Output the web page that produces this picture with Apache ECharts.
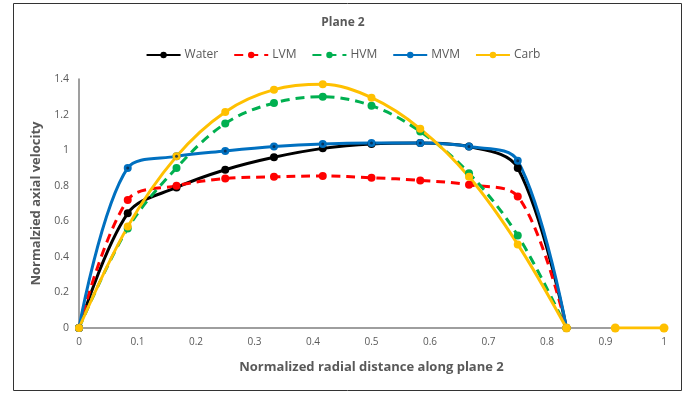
<!DOCTYPE html>
<html><head><meta charset="utf-8">
<script src="https://cdn.jsdelivr.net/npm/echarts@6/dist/echarts.min.js"></script>
<style>html,body{margin:0;padding:0;background:#fff}#c{width:686px;height:396px}</style>
</head><body><div id="c"></div>
<script>
var xValues = [0, 0.0833, 0.1667, 0.25, 0.3333, 0.4167, 0.5, 0.5833, 0.6667, 0.75, 0.8333, 0.9167, 1];
var water = [0, 0.645, 0.79, 0.89, 0.96, 1.01, 1.035, 1.04, 1.02, 0.90, 0, null, null];
var lvm   = [0, 0.72, 0.80, 0.84, 0.85, 0.855, 0.845, 0.83, 0.805, 0.74, 0, null, null];
var hvm   = [0, 0.56, 0.90, 1.15, 1.265, 1.30, 1.25, 1.105, 0.87, 0.52, 0, null, null];
var mvm   = [0, 0.90, 0.965, 0.995, 1.02, 1.035, 1.04, 1.04, 1.02, 0.94, 0, null, null];
var carb  = [0, 0.57, 0.965, 1.215, 1.34, 1.37, 1.295, 1.12, 0.85, 0.47, 0, 0, 0];
var xTicks = [0, 0.1, 0.2, 0.3, 0.4, 0.5, 0.6, 0.7, 0.8, 0.9, 1];
var yTicks = [0, 0.2, 0.4, 0.6, 0.8, 1, 1.2, 1.4];

function pairs(arr, from, to) {
  var out = [];
  for (var i = from; i <= to; i++) if (arr[i] !== null) out.push([xValues[i], arr[i]]);
  return out;
}
var chart = echarts.init(document.getElementById('c'));
function mk(name, color, arr, dashed) {
  return {
    name: name, type: 'line', data: pairs(arr, 0, 10), smooth: 0.35,
    symbol: 'circle', symbolSize: 8, showSymbol: true,
    lineStyle: {color: color, width: 3, type: dashed ? [9, 6] : 'solid'},
    itemStyle: {color: color},
    z: 2
  };
}
var series = [
  mk('Water', '#000000', water, false),
  mk('LVM', '#FF0000', lvm, true),
  mk('HVM', '#00B050', hvm, true),
  mk('MVM', '#0070C0', mvm, false),
  mk('Carb', '#FFC000', carb, false),
  {name: 'CarbTail', type: 'line', data: pairs(carb, 11, 12), symbol: 'circle', symbolSize: 9,
   lineStyle: {color: '#FFC000', width: 3}, itemStyle: {color: '#FFC000'}},
  {name: 'CarbEnd', type: 'scatter', data: pairs(carb, 10, 10), symbolSize: 9, itemStyle: {color: '#FFC000'}, z: 5},
  {name: 'MVMdot', type: 'scatter', data: pairs(mvm, 1, 9), symbolSize: 3,
   itemStyle: {color: '#0b2545'}, z: 6, silent: true}
];

chart.setOption({
  animation: false,
  title: {text: 'Plane 2', left: 'center', top: 12,
    textStyle: {fontFamily: 'Open Sans', fontSize: 12, fontWeight: 'bold', color: '#595959'}},
  legend: {top: 44, left: 'center', itemWidth: 34, itemHeight: 8, itemGap: 15,
    data: ['Water', 'LVM', 'HVM', 'MVM', 'Carb'],
    textStyle: {fontFamily: 'Open Sans', fontSize: 12, color: '#595959', padding: [0, 0, 0, -1]}},
  grid: {left: 79, right: 22, top: 79, bottom: 68, containLabel: false},
  xAxis: {type: 'value', min: 0, max: 1, interval: 0.1,
    name: 'Normalized radial distance along plane 2', nameLocation: 'middle', nameGap: 33,
    nameTextStyle: {fontFamily: 'Open Sans', fontSize: 13, fontWeight: 'bold', color: '#595959'},
    axisLine: {lineStyle: {color: '#7f7f7f', width: 1.5}}, axisTick: {show: false},
    splitLine: {show: false},
    axisLabel: {fontFamily: 'Open Sans', fontSize: 10, color: '#595959', margin: 9,
      formatter: function (v) { var r = Math.round(v * 10) / 10; return xTicks.indexOf(r) >= 0 ? String(r) : ''; }}},
  yAxis: {type: 'value', min: 0, max: 1.4, interval: 0.2,
    name: 'Normalzied axial velocity', nameLocation: 'middle', nameGap: 36,
    nameTextStyle: {fontFamily: 'Open Sans', fontSize: 13, fontWeight: 'bold', color: '#595959'},
    axisLine: {show: true, lineStyle: {color: '#7f7f7f', width: 1.5}}, axisTick: {show: false},
    splitLine: {show: false},
    axisLabel: {fontFamily: 'Open Sans', fontSize: 10.5, color: '#595959', margin: 10,
      formatter: function (v) { var r = Math.round(v * 10) / 10; return yTicks.indexOf(r) >= 0 ? String(r) : ''; }}},
  graphic: [{type: 'rect', shape: {x: 13.5, y: 3.5, width: 668, height: 387},
    style: {fill: 'none', stroke: '#333', lineWidth: 1}, silent: true}],
  series: series
});
</script></body></html>
